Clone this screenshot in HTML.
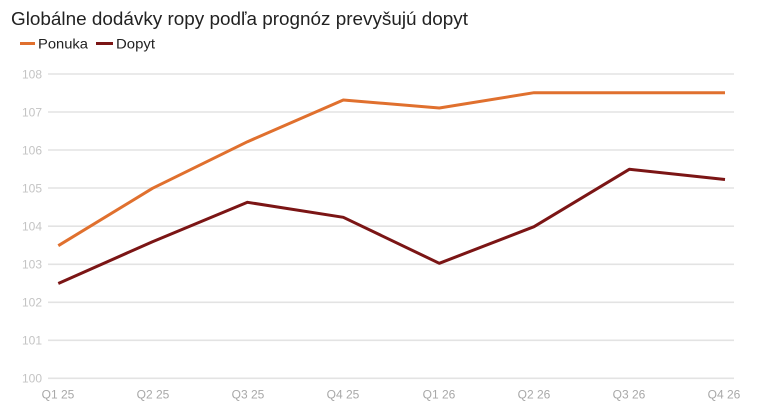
<!DOCTYPE html>
<html><head><meta charset="utf-8"><style>
html,body{margin:0;padding:0;background:#fff;}
svg{display:block;}
</style></head><body>
<svg width="763" height="408" viewBox="0 0 763 408" xmlns="http://www.w3.org/2000/svg">
<rect width="763" height="408" fill="#fff"/>
<text x="11" y="25" font-family="Liberation Sans, sans-serif" font-size="18.5" fill="#222" textLength="457" lengthAdjust="spacingAndGlyphs">Globálne dodávky ropy podľa prognóz prevyšujú dopyt</text>
<line x1="20" y1="43.5" x2="35" y2="43.5" stroke="#e0702e" stroke-width="3"/>
<text x="38" y="48.5" font-family="Liberation Sans, sans-serif" font-size="14" fill="#222" textLength="50" lengthAdjust="spacingAndGlyphs">Ponuka</text>
<line x1="96" y1="43.5" x2="113" y2="43.5" stroke="#7b1515" stroke-width="3"/>
<text x="116" y="48.5" font-family="Liberation Sans, sans-serif" font-size="14" fill="#222" textLength="39" lengthAdjust="spacingAndGlyphs">Dopyt</text>
<g stroke="#e3e3e3" stroke-width="1.6">
<line x1="48" y1="74" x2="734" y2="74"/>
<line x1="48" y1="112" x2="734" y2="112"/>
<line x1="48" y1="150" x2="734" y2="150"/>
<line x1="48" y1="188" x2="734" y2="188"/>
<line x1="48" y1="226.2" x2="734" y2="226.2"/>
<line x1="48" y1="264.3" x2="734" y2="264.3"/>
<line x1="48" y1="302.3" x2="734" y2="302.3"/>
<line x1="48" y1="340.3" x2="734" y2="340.3"/>
<line x1="48" y1="378.3" x2="734" y2="378.3"/>
</g>
<g font-family="Liberation Sans, sans-serif" font-size="12" fill="#c4c4c4" text-anchor="end">
<text x="42" y="78.5">108</text>
<text x="42" y="116.5">107</text>
<text x="42" y="154.5">106</text>
<text x="42" y="192.5">105</text>
<text x="42" y="230.5">104</text>
<text x="42" y="268.5">103</text>
<text x="42" y="306.5">102</text>
<text x="42" y="344.5">101</text>
<text x="42" y="382.5">100</text>
</g>
<g font-family="Liberation Sans, sans-serif" font-size="12" fill="#a8a8a8" text-anchor="middle">
<text x="58" y="398.5">Q1 25</text>
<text x="153" y="398.5">Q2 25</text>
<text x="248" y="398.5">Q3 25</text>
<text x="343" y="398.5">Q4 25</text>
<text x="439" y="398.5">Q1 26</text>
<text x="534" y="398.5">Q2 26</text>
<text x="629" y="398.5">Q3 26</text>
<text x="724" y="398.5">Q4 26</text>
</g>
<polyline fill="none" stroke="#e0702e" stroke-width="3" stroke-linejoin="round" points="58.3,245.7 152.5,188.3 247.5,141.7 343.3,100 439.3,108 534,92.7 629.3,92.7 725,92.7"/>
<polyline fill="none" stroke="#7b1515" stroke-width="3" stroke-linejoin="round" points="58.3,283.5 152.5,241.7 247.5,202.3 343.3,217.3 439.3,263.3 534,226.7 629.3,169.3 725,179.5"/>
</svg>
</body></html>
